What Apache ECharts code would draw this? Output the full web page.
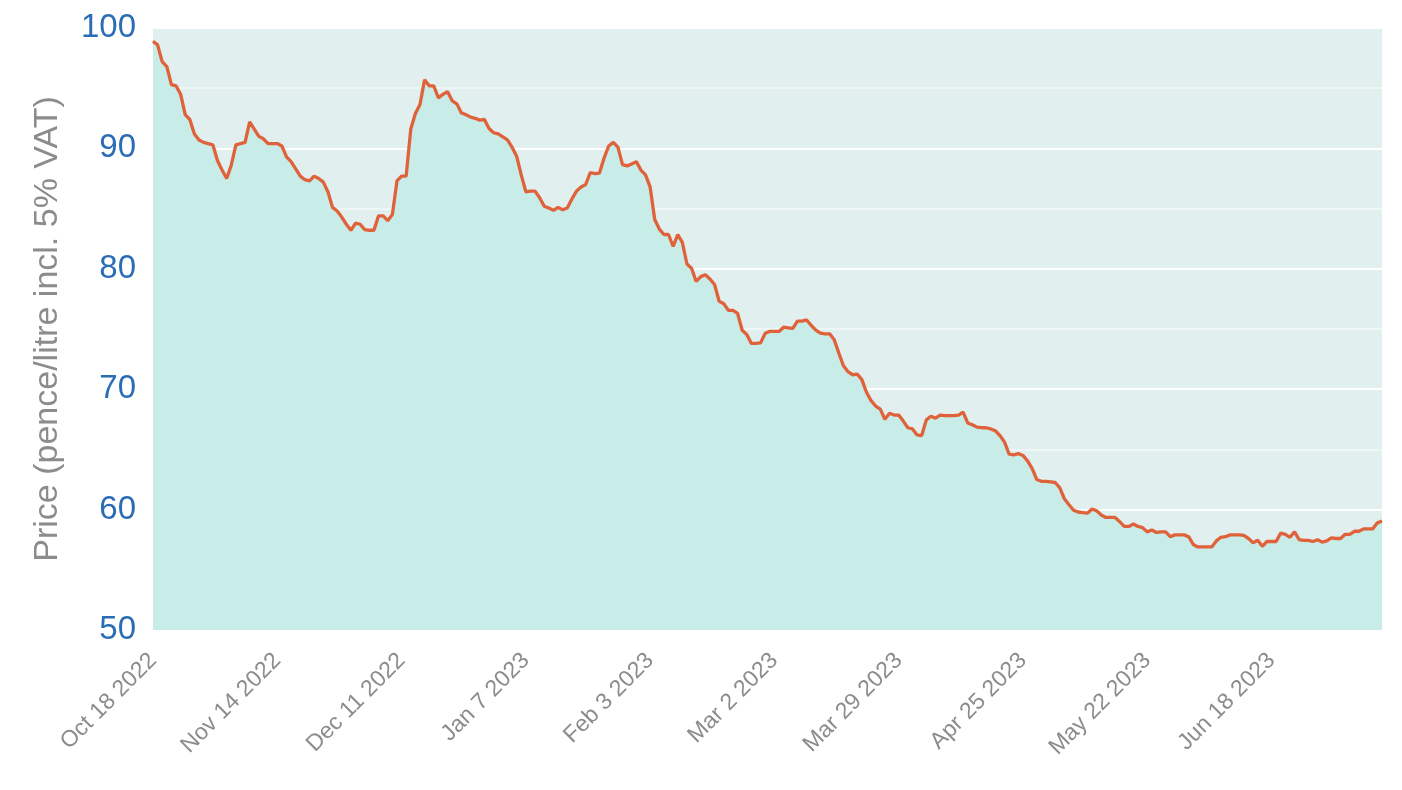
<!DOCTYPE html>
<html>
<head>
<meta charset="utf-8">
<title>Price chart</title>
<script src="https://cdn.jsdelivr.net/npm/echarts@6/dist/echarts.min.js"></script>
<style>
  html, body { margin: 0; padding: 0; background: #fff; }
  #main { width: 1402px; height: 790px; }
</style>
</head>
<body>
<div id="main"></div>
<script>
// daily prices, pence/litre, starting Oct 18 2022
var startDate = [2022, 9, 18];
var yTicks = [50, 60, 70, 80, 90, 100];
var prices = [
    98.9, 98.6, 97.2, 96.8, 95.3, 95.2, 94.5, 92.8, 92.4, 91.2,
    90.7, 90.5, 90.4, 90.3, 89.0, 88.2, 87.5, 88.6, 90.3, 90.4,
    90.5, 92.2, 91.6, 91.0, 90.8, 90.4, 90.4, 90.4, 90.2, 89.3,
    88.9, 88.3, 87.7, 87.4, 87.3, 87.7, 87.5, 87.2, 86.4, 85.1,
    84.8, 84.3, 83.7, 83.2, 83.8, 83.7, 83.25, 83.2, 83.2, 84.4,
    84.4, 84.0, 84.5, 87.3, 87.7, 87.7, 91.6, 92.9, 93.65, 95.7,
    95.2, 95.2, 94.2, 94.5, 94.7, 93.95, 93.7, 92.95, 92.8, 92.6,
    92.5, 92.35, 92.4, 91.65, 91.3, 91.2, 90.95, 90.7, 90.1, 89.35,
    87.8, 86.4, 86.45, 86.45, 85.9, 85.2, 85.05, 84.85, 85.1, 84.9,
    85.05, 85.8, 86.45, 86.8, 87.0, 88.0, 87.9, 87.95, 89.2, 90.2,
    90.5, 90.1, 88.65, 88.55, 88.7, 88.9, 88.2, 87.8, 86.8, 84.1,
    83.3, 82.85, 82.85, 81.85, 82.85, 82.2, 80.4, 80.05, 78.95, 79.35,
    79.5, 79.15, 78.7, 77.3, 77.1, 76.55, 76.55, 76.3, 74.9, 74.55,
    73.8, 73.8, 73.85, 74.65, 74.8, 74.8, 74.8, 75.15, 75.1, 75.05,
    75.65, 75.65, 75.75, 75.3, 74.9, 74.65, 74.6, 74.6, 74.1, 73.0,
    71.95, 71.45, 71.2, 71.25, 70.8, 69.75, 69.05, 68.6, 68.35, 67.5,
    68.0, 67.85, 67.85, 67.35, 66.8, 66.7, 66.2, 66.15, 67.45, 67.75,
    67.6, 67.85, 67.8, 67.8, 67.8, 67.85, 68.1, 67.2, 67.05, 66.85,
    66.8, 66.8, 66.7, 66.55, 66.15, 65.6, 64.6, 64.55, 64.65, 64.5,
    64.05, 63.4, 62.5, 62.35, 62.35, 62.3, 62.25, 61.8, 60.9, 60.4,
    59.95, 59.8, 59.75, 59.7, 60.05, 59.9, 59.55, 59.35, 59.35, 59.35,
    59.0, 58.6, 58.6, 58.8, 58.6, 58.5, 58.15, 58.3, 58.1, 58.15,
    58.15, 57.75, 57.9, 57.9, 57.9, 57.75, 57.1, 56.9, 56.9, 56.9,
    56.9, 57.4, 57.7, 57.75, 57.9, 57.9, 57.9, 57.85, 57.6, 57.25,
    57.45, 56.95, 57.35, 57.35, 57.35, 58.05, 57.95, 57.7, 58.15, 57.5,
    57.45, 57.45, 57.35, 57.5, 57.3, 57.4, 57.65, 57.6, 57.6, 57.95,
    57.95, 58.2, 58.2, 58.4, 58.4, 58.4, 58.9, 59.05
];

var months = ['Jan','Feb','Mar','Apr','May','Jun','Jul','Aug','Sep','Oct','Nov','Dec'];
var dates = [];
for (var i = 0; i < prices.length; i++) {
    var d = new Date(startDate[0], startDate[1], startDate[2] + i);
    dates.push(months[d.getMonth()] + ' ' + d.getDate() + ' ' + d.getFullYear());
}

var myChart = echarts.init(document.getElementById('main'));
var option = {
    animation: false,
    textStyle: { fontFamily: 'Liberation Sans, Arial, sans-serif' },
    grid: {
        left: 153, right: 20, top: 28, bottom: 160,
        show: true, backgroundColor: '#e1f0ef', borderWidth: 0
    },
    xAxis: {
        type: 'category',
        data: dates,
        boundaryGap: false,
        axisLine: { show: false },
        axisTick: { show: false },
        axisLabel: {
            interval: 26,
            rotate: 45,
            margin: 27,
            color: '#8c8c8c',
            fontSize: 23
        },
        splitLine: { show: false }
    },
    yAxis: {
        type: 'value',
        min: yTicks[0],
        max: yTicks[yTicks.length - 1],
        interval: 10,
        name: 'Price (pence/litre incl. 5% VAT)',
        nameLocation: 'middle',
        nameGap: 88,
        nameTextStyle: { color: '#8c8c8c', fontSize: 34 },
        axisLine: { show: false },
        axisTick: { show: false },
        axisLabel: { color: '#2a6db5', fontSize: 33, margin: 17 },
        splitLine: { lineStyle: { color: '#ffffff', width: 2 } },
        minorTick: { show: false, splitNumber: 2 },
        minorSplitLine: { show: true, lineStyle: { color: 'rgba(255,255,255,0.6)', width: 1.5 } }
    },
    series: [
        {
            type: 'line',
            data: prices,
            showSymbol: false,
            lineStyle: { color: '#e0623a', width: 3.3 },
            itemStyle: { color: '#e0623a' },
            areaStyle: { color: '#c8ece7', opacity: 1, origin: 'start' }
        }
    ]
};
myChart.setOption(option);
</script>
</body>
</html>
